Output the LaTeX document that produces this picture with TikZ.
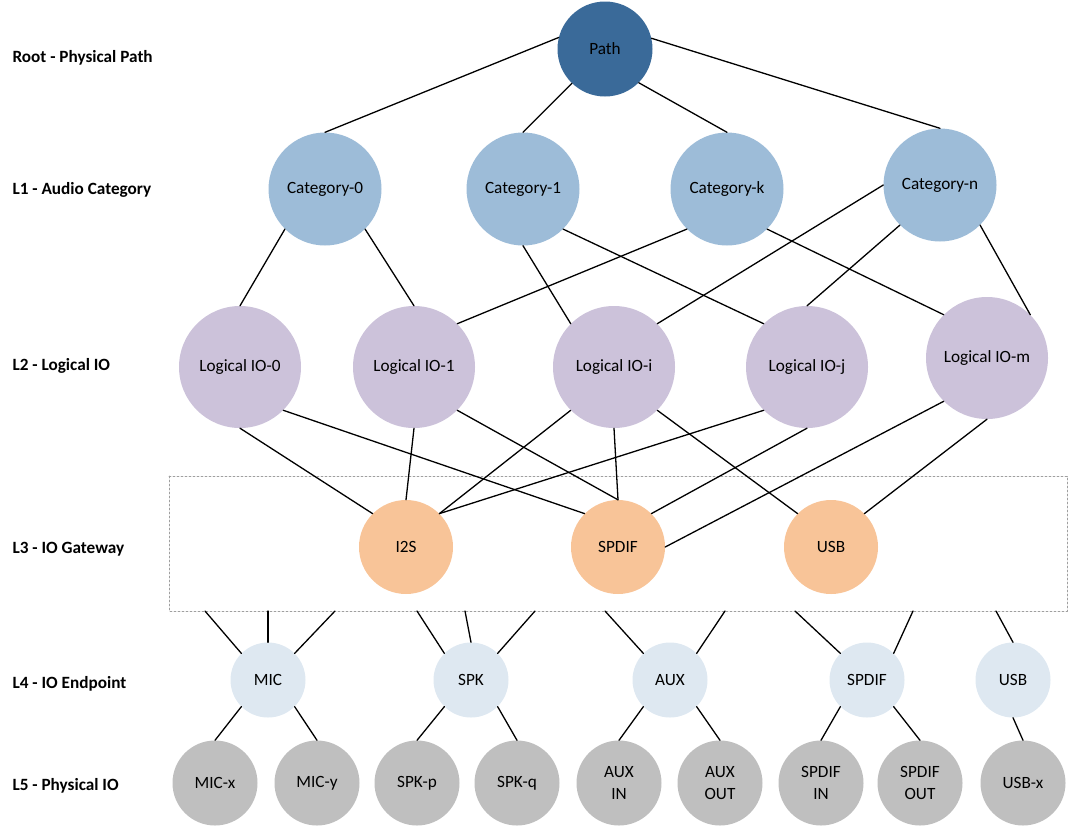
\documentclass[tikz,border=0pt]{standalone}
\usepackage{fontspec}
\setmainfont{Carlito}
\usepackage{xcolor}
\usepackage{tikz}
\definecolor{rootc}{RGB}{58,106,153}
\definecolor{catc}{RGB}{157,188,216}
\definecolor{lioc}{RGB}{204,194,218}
\definecolor{gwc}{RGB}{248,196,152}
\definecolor{epc}{RGB}{222,232,241}
\definecolor{phyc}{RGB}{191,191,191}

\begin{document}
\begin{tikzpicture}[x=1pt,y=-1pt,line cap=round,line join=round,
  font=\fontsize{17.2}{21.5}\selectfont,
  level/.style={anchor=west,font=\fontsize{17.2}{21.5}\selectfont\bfseries},
  bub/.style={circle,inner sep=0pt,draw=none,align=center,text=black},
  link/.style={line width=1.3pt,black},
  gwbox/.style={draw=gray!75,line width=0.8pt,dash pattern=on 2pt off 2pt}]
\useasboundingbox (0,0) rectangle (1070,828);

% level names
\node[level] (t0) at (9,58) {Root - Physical Path};
\node[level] (t1) at (9,190) {L1 - Audio Category};
\node[level] (t2) at (9,366) {L2 - Logical IO};
\node[level] (t3) at (9,549) {L3 - IO Gateway};
\node[level] (t4) at (9,684) {L4 - IO Endpoint};
\node[level] (t5) at (9,786) {L5 - Physical IO};

% gateway frame
\draw[gwbox] (169,476) rectangle (1067,611);

% root and categories
\node[bub,fill=rootc,minimum size=95] (path) at (605,49) {Path};
\node[bub,fill=catc,minimum size=113] (cat0) at (325,189) {Category-0};
\node[bub,fill=catc,minimum size=113] (cat1) at (523,189) {Category-1};
\node[bub,fill=catc,minimum size=113] (catk) at (727,189) {Category-k};
\node[bub,fill=catc,minimum size=113] (catn) at (940,185) {Category-n};

% logical io
\node[bub,fill=lioc,minimum size=122] (lio0) at (240,367) {Logical IO-0};
\node[bub,fill=lioc,minimum size=122] (lio1) at (414,367) {Logical IO-1};
\node[bub,fill=lioc,minimum size=122] (lioi) at (614,367) {Logical IO-i};
\node[bub,fill=lioc,minimum size=122] (lioj) at (807,367) {Logical IO-j};
\node[bub,fill=lioc,minimum size=122] (liom) at (987,358) {Logical IO-m};

% gateways
\node[bub,fill=gwc,minimum size=94] (i2s) at (406,547) {I2S};
\node[bub,fill=gwc,minimum size=94] (gspdif) at (618,547) {SPDIF};
\node[bub,fill=gwc,minimum size=94] (gusb) at (831,547) {USB};

% endpoints
\node[bub,fill=epc,minimum size=75] (mic) at (268,680) {MIC};
\node[bub,fill=epc,minimum size=75] (spk) at (471,680) {SPK};
\node[bub,fill=epc,minimum size=75] (aux) at (670,680) {AUX};
\node[bub,fill=epc,minimum size=75] (espdif) at (867,680) {SPDIF};
\node[bub,fill=epc,minimum size=75] (eusb) at (1013,680) {USB};

% physical io
\node[bub,fill=phyc,minimum size=85] (micx) at (215,783) {MIC-x};
\node[bub,fill=phyc,minimum size=85] (micy) at (317,783) {MIC-y};
\node[bub,fill=phyc,minimum size=85] (spkp) at (417,783) {SPK-p};
\node[bub,fill=phyc,minimum size=85] (spkq) at (517,783) {SPK-q};
\node[bub,fill=phyc,minimum size=85] (auxin) at (619,783) {AUX\\IN};
\node[bub,fill=phyc,minimum size=85] (auxout) at (720,783) {AUX\\OUT};
\node[bub,fill=phyc,minimum size=85] (spdifin) at (821,783) {SPDIF\\IN};
\node[bub,fill=phyc,minimum size=85] (spdifout) at (920,783) {SPDIF\\OUT};
\node[bub,fill=phyc,minimum size=85] (usbx) at (1023,783) {USB-x};

% free ends on the frame
\coordinate (m1) at (205,611);
\coordinate (m2) at (268,611);
\coordinate (m3) at (335,611);
\coordinate (s1) at (417,611);
\coordinate (s2) at (465,611);
\coordinate (s3) at (535,611);
\coordinate (a1) at (605,611);
\coordinate (a2) at (725,611);
\coordinate (d1) at (795,611);
\coordinate (d2) at (913,611);
\coordinate (u1) at (996,611);

% root -> L1
\draw[link] (path.166) -- (cat0.north);
\draw[link] (path.226) -- (cat1.north);
\draw[link] (path.-45) -- (catk.north);
\draw[link] (path.13) -- (catn.north);

% L1 -> L2
\draw[link] (cat0.225) -- (lio0.north);
\draw[link] (cat0.-45) -- (lio1.north);
\draw[link] (cat1.south) -- (lioi.135);
\draw[link] (cat1.-45) -- (lioj.135);
\draw[link] (catk.225) -- (lio1.45);
\draw[link] (catk.-45) -- (liom.135);
\draw[link] (catn.west) -- (lioi.45);
\draw[link] (catn.225) -- (lioj.north);
\draw[link] (catn.-45) -- (liom.45);

% L2 -> L3
\draw[link] (lio0.south) -- (i2s.135);
\draw[link] (lio0.-45) -- (gspdif.135);
\draw[link] (lio1.south) -- (i2s.north);
\draw[link] (lio1.-45) -- (gspdif.north);
\draw[link] (lioi.225) -- (i2s.45);
\draw[link] (lioi.south) -- (gspdif.north);
\draw[link] (lioi.-45) -- (gusb.135);
\draw[link] (lioj.225) -- (i2s.45);
\draw[link] (lioj.south) -- (gspdif.45);
\draw[link] (liom.225) -- (gspdif.east);
\draw[link] (liom.south) -- (gusb.45);

% frame -> L4
\draw[link] (m1) -- (mic.135);
\draw[link] (m2) -- (mic.north);
\draw[link] (m3) -- (mic.45);
\draw[link] (s1) -- (spk.135);
\draw[link] (s2) -- (spk.north);
\draw[link] (s3) -- (spk.45);
\draw[link] (a1) -- (aux.135);
\draw[link] (a2) -- (aux.45);
\draw[link] (d1) -- (espdif.135);
\draw[link] (d2) -- (espdif.45);
\draw[link] (u1) -- (eusb.north);

% L4 -> L5
\draw[link] (mic.225) -- (micx.north);
\draw[link] (mic.-45) -- (micy.north);
\draw[link] (spk.225) -- (spkp.north);
\draw[link] (spk.-45) -- (spkq.north);
\draw[link] (aux.225) -- (auxin.north);
\draw[link] (aux.-45) -- (auxout.north);
\draw[link] (espdif.225) -- (spdifin.north);
\draw[link] (espdif.-45) -- (spdifout.north);
\draw[link] (eusb.south) -- (usbx.north);
\end{tikzpicture}
\end{document}
